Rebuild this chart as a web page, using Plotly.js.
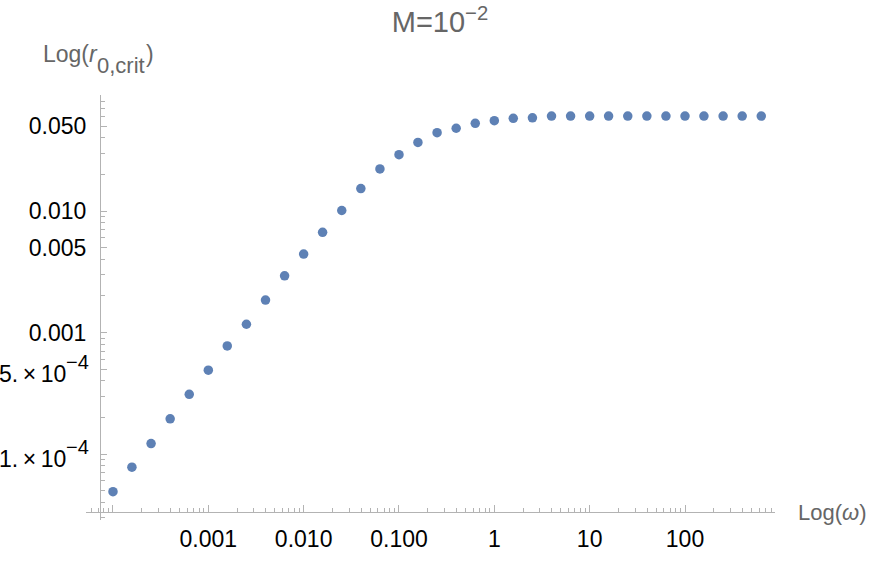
<!DOCTYPE html>
<html>
<head>
<meta charset="utf-8">
<script src="https://cdn.plot.ly/plotly-3.0.1.min.js"></script>
<style>html,body{margin:0;padding:0;background:#fff}#chart{width:872px;height:562px}</style>
</head>
<body>
<div id="chart"></div>
<script>
// omega values (x) and critical r0 values (y)
const omega = [1e-4, 1.58e-4, 2.51e-4, 3.98e-4, 6.31e-4,
  1e-3, 1.58e-3, 2.51e-3, 3.98e-3, 6.31e-3,
  1e-2, 1.58e-2, 2.51e-2, 3.98e-2, 6.31e-2,
  0.1, 0.158, 0.251, 0.398, 0.631,
  1, 1.58, 2.51, 3.98, 6.31,
  10, 15.8, 25.1, 39.8, 63.1,
  100, 158, 251, 398, 631];
const r0crit = [4.9e-5, 7.8e-5, 1.22e-4, 1.95e-4, 3.1e-4,
  4.9e-4, 7.75e-4, 1.17e-3, 1.85e-3, 2.93e-3,
  4.42e-3, 6.68e-3, 1.01e-2, 1.53e-2, 2.22e-2,
  2.91e-2, 3.67e-2, 4.41e-2, 4.8e-2, 5.27e-2,
  5.54e-2, 5.8e-2, 5.85e-2, 6.05e-2, 6.05e-2,
  6.05e-2, 6.05e-2, 6.05e-2, 6.05e-2, 6.05e-2,
  6.05e-2, 6.05e-2, 6.05e-2, 6.05e-2, 6.05e-2];

const xTickVals = [1e-4, 1e-3, 1e-2, 1e-1, 1, 10, 100];
const xTickText = ["", "0.001", "0.010", "0.100", "1", "10", "100"];
const yTickVals = [1e-4, 5e-4, 1e-3, 5e-3, 1e-2, 5e-2];
const yTickText = ["", "", "0.001", "0.005", "0.010", "0.050"];
// scientific-notation tick labels (mantissa part and exponent), drawn as text pieces
const ySciVals = [1e-4, 5e-4];
const ySciBase = ["1.\u2009×\u200910", "5.\u2009×\u200910"];
const ySciExp = ["−4", "−4"];

// minor tick positions: 2..9 times each decade, skipping majors
function minorTicks(decades, majors) {
  const out = [];
  decades.forEach(d => {
    for (let m = 2; m <= 9; m++) {
      const v = m * Math.pow(10, d);
      if (!majors.some(t => Math.abs(t - v) / t < 1e-6)) out.push(v);
    }
  });
  return out;
}
const xMinor = minorTicks([-5, -4, -3, -2, -1, 0, 1, 2], xTickVals);
const yMinor = minorTicks([-5, -4, -3, -2], yTickVals);

const FONT = "Liberation Sans, Arial, sans-serif";
const axisColor = "#b3b3b3";
const labelColor = "#666";
const tickFont = {family: FONT, size: 23, color: "#000"};

const trace = {
  x: omega, y: r0crit, type: "scatter", mode: "markers",
  marker: {color: "#5e81b5", size: 9.5},
  hoverinfo: "x+y"
};

const L = 86, R = 775, T = 95, B = 520;
const W = R - L, H = B - T;
const px = v => (v - L) / W;      // pixel x -> paper x
const py = v => (B - v) / H;      // pixel y -> paper y

const annotations = [];
ySciVals.forEach((v, i) => {
  annotations.push({
    text: ySciBase[i], xref: "paper", yref: "y",
    x: px(68), y: Math.log10(v), yshift: -4.5,
    xanchor: "right", yanchor: "middle", showarrow: false,
    font: tickFont
  });
  annotations.push({
    text: ySciExp[i], xref: "paper", yref: "y",
    x: px(91), y: Math.log10(v), yshift: 7,
    xanchor: "right", yanchor: "middle", showarrow: false,
    font: {family: FONT, size: 20, color: "#000"}
  });
});
// y-axis label: Log(r_{0,crit})
annotations.push({
  text: "Log(<i>r</i>", xref: "paper", yref: "paper",
  x: px(41), y: py(53.5), xanchor: "left", yanchor: "middle", showarrow: false,
  font: {family: FONT, size: 23, color: labelColor}
});
annotations.push({
  text: "0,crit", xref: "paper", yref: "paper",
  x: px(95), y: py(65.5), xanchor: "left", yanchor: "middle", showarrow: false,
  font: {family: FONT, size: 22, color: labelColor}
});
annotations.push({
  text: ")", xref: "paper", yref: "paper",
  x: px(144), y: py(53.5), xanchor: "left", yanchor: "middle", showarrow: false,
  font: {family: FONT, size: 23, color: labelColor}
});
// x-axis label
annotations.push({
  text: "Log(<i>ω</i>)", xref: "paper", yref: "paper",
  x: px(796), y: py(512), xanchor: "left", yanchor: "middle", showarrow: false,
  font: {family: FONT, size: 22, color: labelColor}
});

const layout = {
  width: 872, height: 562,
  margin: {l: L, r: 872 - R, t: T, b: 562 - B, pad: 0},
  paper_bgcolor: "#fff", plot_bgcolor: "#fff",
  showlegend: false,
  title: {
    text: "M=10<sup>−2</sup>",
    font: {family: FONT, size: 29, color: labelColor},
    x: 440 / 872, xref: "container", xanchor: "center",
    y: 1 - 22 / 562, yref: "container", yanchor: "middle"
  },
  xaxis: {
    type: "log",
    range: [-4.283, 2.944],
    anchor: "free", position: (B - 511.7) / H,
    showline: true, linecolor: axisColor, linewidth: 1,
    showgrid: false, zeroline: false,
    tickmode: "array", tickvals: xTickVals, ticktext: xTickText,
    ticks: "inside", ticklen: 7, tickcolor: axisColor, tickwidth: 1,
    minor: {tickmode: "array", tickvals: xMinor, ticks: "inside", ticklen: 3.5, tickcolor: axisColor, tickwidth: 1, showgrid: false},
    tickfont: tickFont,
    ticklabelstandoff: 7
  },
  yaxis: {
    type: "log",
    range: [-4.543, -1.045],
    anchor: "free", position: (100 - L) / W,
    showline: true, linecolor: axisColor, linewidth: 1,
    showgrid: false, zeroline: false,
    tickmode: "array", tickvals: yTickVals, ticktext: yTickText,
    ticks: "inside", ticklen: 6, tickcolor: axisColor, tickwidth: 1,
    minor: {tickmode: "array", tickvals: yMinor, ticks: "inside", ticklen: 3.5, tickcolor: axisColor, tickwidth: 1, showgrid: false},
    tickfont: tickFont,
    ticklabelstandoff: 9
  },
  annotations: annotations
};

Plotly.newPlot("chart", [trace], layout, {staticPlot: true, displayModeBar: false});
</script>
</body>
</html>
